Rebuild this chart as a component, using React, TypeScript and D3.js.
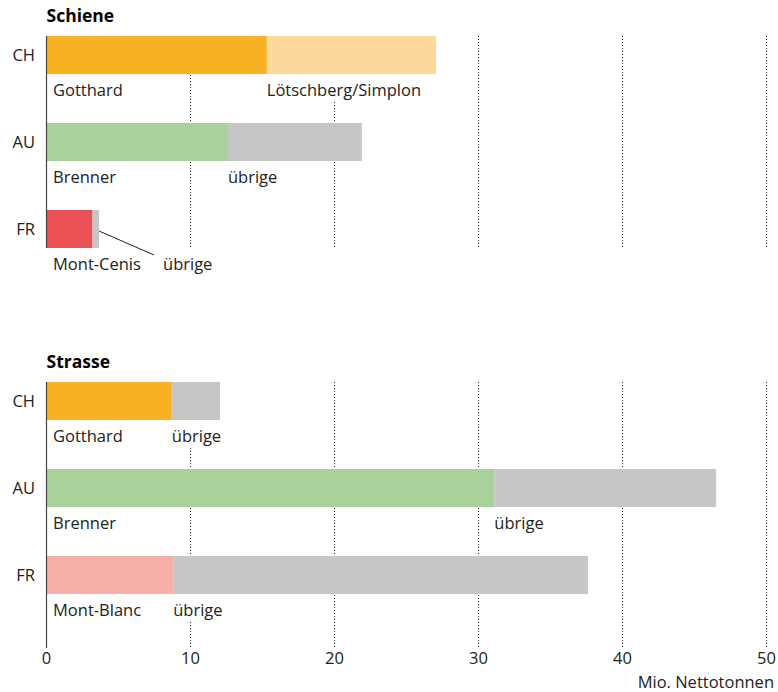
import React, { useEffect, useRef } from "react";
import * as d3 from "d3";

const categories = ["CH", "AU", "FR"];
const tickValues = [0, 10, 20, 30, 40, 50];

const schieneMain = [15.3, 12.6, 3.2];
const schieneTotal = [27.05, 21.9, 3.65];
const schieneMainLabels = ["Gotthard", "Brenner", "Mont-Cenis"];
const schieneRestLabels = ["Lötschberg/Simplon", "übrige", "übrige"];

const strasseMain = [8.7, 31.1, 8.8];
const strasseTotal = [12.05, 46.5, 37.6];
const strasseMainLabels = ["Gotthard", "Brenner", "Mont-Blanc"];
const strasseRestLabels = ["übrige", "übrige", "übrige"];

const schieneMainColors = ["#F8B122", "#A8D29A", "#EA5155"];
const schieneRestColors = ["#FCD89C", "#C5C6C5", "#C5C6C5"];
const strasseMainColors = ["#F8B122", "#A8D29A", "#F5AFA8"];
const strasseRestColors = ["#C5C6C5", "#C5C6C5", "#C5C6C5"];

const FONT = "'Open Sans', 'Noto Sans', sans-serif";

export default function App() {
  const ref = useRef<SVGSVGElement | null>(null);

  useEffect(() => {
    const svg = d3.select(ref.current);
    svg.selectAll("*").remove();

    const x = d3.scaleLinear().domain([0, 50]).range([46.5, 766.5]);

    const panels = [
      {
        title: "Schiene",
        titleY: 22,
        range: [36, 248],
        gridBottom: 248,
        main: schieneMain,
        total: schieneTotal,
        mainLabels: schieneMainLabels,
        restLabels: schieneRestLabels,
        mainColors: schieneMainColors,
        restColors: schieneRestColors,
      },
      {
        title: "Strasse",
        titleY: 368,
        range: [382, 594],
        gridBottom: 648,
        main: strasseMain,
        total: strasseTotal,
        mainLabels: strasseMainLabels,
        restLabels: strasseRestLabels,
        mainColors: strasseMainColors,
        restColors: strasseRestColors,
      },
    ];

    panels.forEach((p) => {
      const y = d3
        .scaleBand<string>()
        .domain(categories)
        .range(p.range as [number, number])
        .paddingInner(49 / 87)
        .paddingOuter(0);
      const g = svg.append("g");

      // gridlines
      g.selectAll("line.grid")
        .data(tickValues.filter((t) => t > 0))
        .enter()
        .append("line")
        .attr("x1", (d) => x(d))
        .attr("x2", (d) => x(d))
        .attr("y1", p.range[0])
        .attr("y2", p.gridBottom)
        .attr("stroke", "#222")
        .attr("stroke-width", 1)
        .attr("stroke-dasharray", "1,2");

      // title
      g.append("text")
        .attr("x", x(0))
        .attr("y", p.titleY)
        .attr("font-family", FONT)
        .attr("font-weight", 700)
        .attr("font-size", 17.5)
        .attr("fill", "#000")
        .text(p.title);

      categories.forEach((c, i) => {
        const y0 = y(c)!;
        const bw = y.bandwidth();
        // bars
        g.append("rect")
          .attr("x", x(0))
          .attr("y", y0)
          .attr("width", x(p.main[i]) - x(0))
          .attr("height", bw)
          .attr("fill", p.mainColors[i]);
        g.append("rect")
          .attr("x", x(p.main[i]))
          .attr("y", y0)
          .attr("width", x(p.total[i]) - x(p.main[i]))
          .attr("height", bw)
          .attr("fill", p.restColors[i]);

        // category label
        g.append("text")
          .attr("x", 35)
          .attr("y", y0 + bw / 2 + 6)
          .attr("text-anchor", "end")
          .attr("font-family", FONT)
          .attr("font-size", 16.5)
          .attr("fill", "#222")
          .text(c);

        const baseY = y0 + bw + 22;
        const addLabel = (lx: number, txt: string) => {
          const lg = g.append("g");
          const bg = lg.append("rect").attr("fill", "#fff");
          const t = lg
            .append("text")
            .attr("x", lx)
            .attr("y", baseY)
            .attr("font-family", FONT)
            .attr("font-size", 16.5)
            .attr("fill", "#222")
            .text(txt);
          const bb = (t.node() as SVGTextElement).getBBox();
          bg.attr("x", bb.x - 2)
            .attr("y", y0 + bw)
            .attr("width", bb.width + 4)
            .attr("height", baseY + 6 - (y0 + bw));
          return bb;
        };

        const mb = addLabel(x(0) + 6.5, p.mainLabels[i]);
        const restW = x(p.total[i]) - x(p.main[i]);
        if (restW < 20) {
          const lx = mb.x + mb.width + 22;
          g.append("line")
            .attr("x1", x(p.total[i]))
            .attr("y1", y0 + bw / 2 + 2)
            .attr("x2", lx - 9)
            .attr("y2", y0 + bw + 7)
            .attr("stroke", "#222")
            .attr("stroke-width", 1);
          addLabel(lx, p.restLabels[i]);
        } else {
          addLabel(x(p.main[i]), p.restLabels[i]);
        }
      });

      // left axis line
      g.append("line")
        .attr("x1", x(0))
        .attr("x2", x(0))
        .attr("y1", p.range[0])
        .attr("y2", p.gridBottom)
        .attr("stroke", "#444")
        .attr("stroke-width", 1.2);
    });

    // tick labels
    svg
      .append("g")
      .selectAll("text")
      .data(tickValues)
      .enter()
      .append("text")
      .attr("x", (d) => x(d))
      .attr("y", 664)
      .attr("text-anchor", "middle")
      .attr("font-family", FONT)
      .attr("font-size", 16.5)
      .attr("fill", "#222")
      .text((d) => String(d));

    svg
      .append("text")
      .attr("x", 774)
      .attr("y", 688)
      .attr("text-anchor", "end")
      .attr("font-family", FONT)
      .attr("font-size", 16.5)
      .attr("fill", "#222")
      .text("Mio. Nettotonnen");
  }, []);

  return (
    <svg
      ref={ref}
      width={778}
      height={692}
      style={{ position: "absolute", left: 0, top: 0, background: "#fff" }}
    />
  );
}
